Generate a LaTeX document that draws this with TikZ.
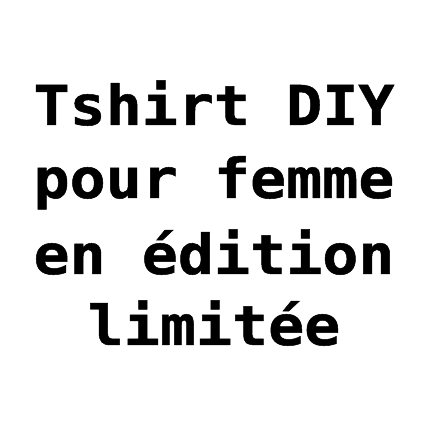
\documentclass[tikz,border=0pt]{standalone}
\usepackage{fontspec}
\newfontfamily\titlefont{DejaVu Sans Mono}[BoldFont={DejaVu Sans Mono Bold},BoldFeatures={FakeStretch=1.09,FakeBold=0.9}]
\begin{document}
\begin{tikzpicture}[x=1pt,y=1pt,
  line/.style={anchor=base, inner sep=0pt, font=\titlefont\bfseries\fontsize{55}{55}\selectfont}]
\useasboundingbox[fill=white] (0,0) rectangle (432,432);
\node[line] (l1) at (214,432-125) {Tshirt DIY};
\node[line] (l2) at (214,432-198) {pour femme};
\node[line] (l3) at (214,432-274) {en édition};
\node[line] (l4) at (214,432-345) {limitée};
\end{tikzpicture}
\end{document}
